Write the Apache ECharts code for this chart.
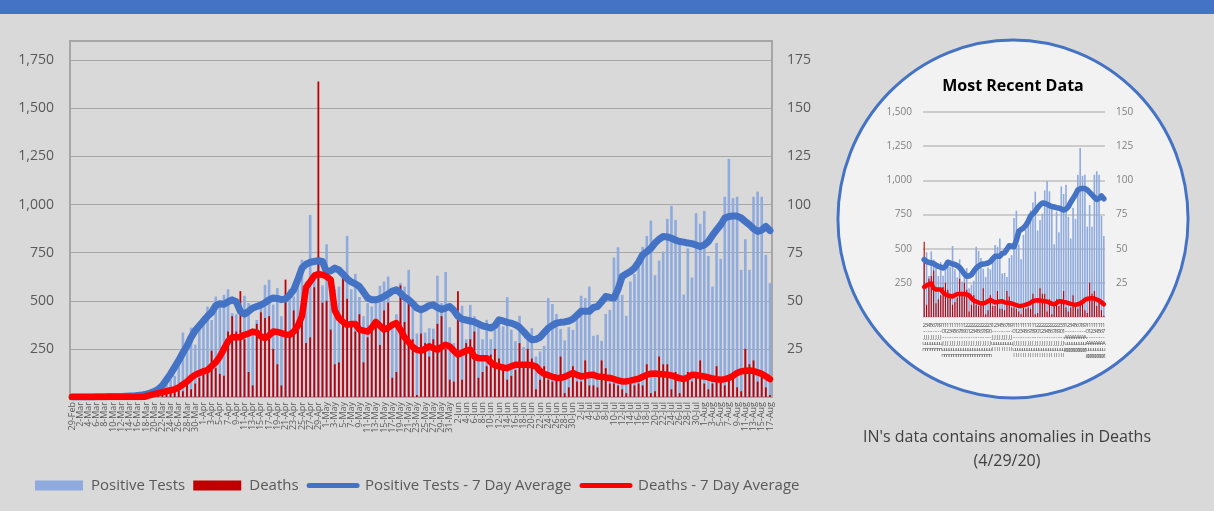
<!DOCTYPE html>
<html>
<head>
<meta charset="utf-8">
<title>IN Positive Tests and Deaths</title>
<script src="https://cdn.jsdelivr.net/npm/echarts/dist/echarts.min.js"></script>
<style>
  html, body { margin: 0; padding: 0; background: #d9d9d9; }
  #chart { width: 1214px; height: 511px; }
</style>
</head>
<body>
<div id="chart"></div>
<script>
// one category per day, 29-Feb .. 17-Aug
const dates = [
  "29-Feb",
  "1-Mar","2-Mar","3-Mar","4-Mar","5-Mar","6-Mar","7-Mar","8-Mar","9-Mar","10-Mar","11-Mar","12-Mar","13-Mar","14-Mar","15-Mar","16-Mar",
  "17-Mar","18-Mar","19-Mar","20-Mar","21-Mar","22-Mar","23-Mar","24-Mar","25-Mar","26-Mar","27-Mar","28-Mar","29-Mar","30-Mar","31-Mar",
  "1-Apr","2-Apr","3-Apr","4-Apr","5-Apr","6-Apr","7-Apr","8-Apr","9-Apr","10-Apr","11-Apr","12-Apr","13-Apr","14-Apr","15-Apr",
  "16-Apr","17-Apr","18-Apr","19-Apr","20-Apr","21-Apr","22-Apr","23-Apr","24-Apr","25-Apr","26-Apr","27-Apr","28-Apr","29-Apr","30-Apr",
  "1-May","2-May","3-May","4-May","5-May","6-May","7-May","8-May","9-May","10-May","11-May","12-May","13-May","14-May","15-May","16-May",
  "17-May","18-May","19-May","20-May","21-May","22-May","23-May","24-May","25-May","26-May","27-May","28-May","29-May","30-May","31-May",
  "1-Jun","2-Jun","3-Jun","4-Jun","5-Jun","6-Jun","7-Jun","8-Jun","9-Jun","10-Jun","11-Jun","12-Jun","13-Jun","14-Jun","15-Jun",
  "16-Jun","17-Jun","18-Jun","19-Jun","20-Jun","21-Jun","22-Jun","23-Jun","24-Jun","25-Jun","26-Jun","27-Jun","28-Jun","29-Jun","30-Jun",
  "1-Jul","2-Jul","3-Jul","4-Jul","5-Jul","6-Jul","7-Jul","8-Jul","9-Jul","10-Jul","11-Jul","12-Jul","13-Jul","14-Jul","15-Jul","16-Jul",
  "17-Jul","18-Jul","19-Jul","20-Jul","21-Jul","22-Jul","23-Jul","24-Jul","25-Jul","26-Jul","27-Jul","28-Jul","29-Jul","30-Jul","31-Jul",
  "1-Aug","2-Aug","3-Aug","4-Aug","5-Aug","6-Aug","7-Aug","8-Aug","9-Aug","10-Aug","11-Aug","12-Aug","13-Aug","14-Aug","15-Aug","16-Aug","17-Aug"
];

const positiveTests = [
  0,0,0,0,0,0,1,0,1,3,2,4,3,5,8,5,
  10,9,15,20,27,32,60,100,90,110,
  190,335,250,360,272,380,
  420,470,400,522,480,531,560,436,430,350,
  526,488,330,400,470,583,609,480,566,420,
  530,560,522,640,713,600,946,650,730,580,
  794,600,560,574,650,837,560,640,520,420,
  488,470,520,578,600,626,380,430,592,574,
  661,470,330,460,
  335,358,355,630,488,650,362,280,440,474,
  300,479,420,367,300,401,301,350,380,367,
  519,350,290,422,260,300,358,211,237,266,
  514,483,432,353,294,363,349,410,526,514,574,318,
  323,292,432,453,725,778,531,422,600,640,
  700,780,837,917,633,709,756,926,993,920,
  820,533,772,621,955,900,967,733,574,800,
  718,1041,1237,1033,1041,661,820,661,1041,1067,1041,739,592
];

const deaths = [
  0,0,0,0,0,0,0,0,0,0,0,0,0,0,0,0,
  1,0,1,0,2,1,2,2,3,5,
  4,3,7,4,7,10,15,13,24,15,
  12,11,34,42,34,55,30,13,6,38,
  44,41,42,25,17,6,61,32,45,37,
  45,28,31,57,164,49,50,35,17,18,
  62,51,38,34,43,18,31,38,40,27,
  45,49,10,13,58,39,49,30,1,33,
  28,21,30,38,42,25,9,8,55,9,
  28,30,34,10,13,16,22,25,20,14,
  9,11,14,28,16,25,20,4,9,16,
  9,8,9,21,2,5,16,8,8,19,6,6,
  5,19,15,7,7,6,4,2,7,6,
  7,6,17,2,3,21,17,17,4,13,
  2,10,13,8,13,19,7,4,7,16,
  8,6,9,13,5,3,25,17,19,8,13,5,1
];

const positiveAvg = [
  0,0,0,0,0,0,1,1,1,2,2,3,3,4,5,
  5,8,10,14,20,28,40,60,90,120,
  155,190,230,265,310,345,370,395,420,440,
  475,485,482,495,505,495,
  445,430,445,462,470,478,490,505,514,512,
  506,510,530,557,610,670,690,700,704,708,
  704,650,655,670,660,638,615,598,588,574,
  545,514,505,505,512,522,535,550,557,540,
  518,505,485,
  462,453,462,475,479,465,455,462,470,450,
  420,405,400,395,390,380,370,365,358,370,
  401,395,388,384,375,362,340,315,298,300,
  310,335,358,372,384,388,390,395,405,425,
  445,445,445,465,
  470,495,522,518,514,560,626,640,652,670,
  700,739,755,773,800,820,834,832,825,815,
  808,805,800,797,790,782,790,808,840,868,
  895,930,938,941,940,930,912,895,875,860,868,886,865
];

const deathsAvg = [
  0,0,0,0,0,0,0,0,0,0,0,0,0,0,0,0,0,0,
  0.3,1,1.5,2,2.5,3,3.5,4,5,6.5,
  8,10,11.5,12.5,13.3,14,16,18,21,25,
  29,31,31,31,32.3,33,34,33.5,31.5,30.6,
  32,34,33.8,33.2,32.5,32.3,34,37,42,57,
  60,63,64,63.5,62.6,61,45,41,39,37.5,
  38,38,35,34.5,34,36,39,37,35,36,
  37.5,38.4,35,31,28.5,26,
  24.5,24,25,26.3,25.5,24.6,26,27.2,26.3,24,
  22,23,24,24.6,21,20.2,20.2,20.2,18,16.5,
  15.9,15.3,15,16,16.8,16.8,16.8,16.8,16.5,15.9,
  13.5,12,11.3,10.5,10,9.9,10.5,11.5,12.5,11.5,
  10.7,11,11.4,11.6,
  10.7,10.5,10.2,9.9,9.3,8.7,8.1,8.1,8.5,9,
  9.5,10.5,11.5,12.1,12.2,12,11.8,11.6,11.2,10.5,
  9.8,9.3,10.2,11.6,11.4,11,10.7,10.2,9.6,9.2,
  9,9.3,9.9,11,12.5,13.3,13.6,13.8,13.5,12.8,12,10.8,9.3
];

// "Most Recent Data" inset shows 3-Jun onwards
const insetStart = 94;

const FONT = '"Open Sans", "Noto Sans", sans-serif';
const LABEL_COLOR = '#595959';
const GRID_COLOR = '#a6a6a6';

function thousands(v) {
  return String(v).replace(/\B(?=(\d{3})+(?!\d))/g, ',');
}

// value axis helper: hides the 0 label and anything above the last real tick
function valueAxis(grid, pos, max, step, lastTick, opts) {
  return {
    type: 'value',
    gridIndex: grid,
    position: pos,
    min: 0,
    max: max,
    interval: step,
    axisLine: { show: false },
    axisTick: { show: false },
    splitLine: { show: opts.split, lineStyle: { color: opts.splitColor, width: opts.splitWidth } },
    axisLabel: {
      fontFamily: FONT,
      fontSize: opts.fontSize,
      color: opts.color,
      margin: opts.margin,
      showMaxLabel: max === lastTick,
      formatter: v => (v > 0 && v <= lastTick) ? thousands(v) : ''
    }
  };
}

// legend entries for the lines: plain thick line, no symbol
function lineLegend(name) {
  return { name: name, itemStyle: { opacity: 0 }, lineStyle: { width: 5, cap: 'round' } };
}

const chart = echarts.init(document.getElementById('chart'));

chart.setOption({
  animation: false,
  backgroundColor: '#d9d9d9',
  textStyle: { fontFamily: FONT },
  grid: [
    { left: 70, right: 442, top: 41, bottom: 114, show: true, borderColor: GRID_COLOR, borderWidth: 2, outerBoundsMode: 'none' },
    { left: 923, right: 109, top: 112, bottom: 194, outerBoundsMode: 'none' }
  ],
  legend: {
    left: 30,
    top: 473,
    itemWidth: 48,
    itemHeight: 10,
    itemGap: 8,
    textStyle: { fontFamily: FONT, fontSize: 15, color: LABEL_COLOR, padding: [0, 0, 0, 3] },
    data: [
      { name: 'Positive Tests', icon: 'rect' },
      { name: 'Deaths', icon: 'rect' },
      lineLegend('Positive Tests - 7 Day Average'),
      lineLegend('Deaths - 7 Day Average')
    ]
  },
  xAxis: [
    {
      type: 'category',
      gridIndex: 0,
      data: dates,
      axisTick: { show: false },
      axisLine: { lineStyle: { color: GRID_COLOR, width: 2 } },
      // every label is laid out (interval 0) and every other one is blanked,
      // so the first and last dates are not dropped
      axisLabel: {
        interval: 0, rotate: 90, fontFamily: FONT, fontSize: 9, color: LABEL_COLOR, margin: 5,
        hideOverlap: false,
        formatter: (v, i) => (i % 2 === 0 ? v : '')
      }
    },
    // second category axis so the death bars sit on top of the test bars
    { type: 'category', gridIndex: 0, data: dates, show: false },
    {
      type: 'category',
      gridIndex: 1,
      data: dates.slice(insetStart),
      axisTick: { show: false },
      axisLine: { lineStyle: { color: '#d9d9d9', width: 1 } },
      axisLabel: {
        interval: 0, fontFamily: FONT, fontSize: 6, lineHeight: 6, color: LABEL_COLOR, margin: 5,
        hideOverlap: false,
        formatter: v => v.split('').join('\n')
      }
    },
    { type: 'category', gridIndex: 1, data: dates.slice(insetStart), show: false }
  ],
  yAxis: [
    valueAxis(0, 'left', 1850, 250, 1750, { split: true, splitColor: GRID_COLOR, splitWidth: 1, fontSize: 14, color: LABEL_COLOR, margin: 16 }),
    valueAxis(0, 'right', 185, 25, 175, { split: false, fontSize: 14, color: LABEL_COLOR, margin: 15 }),
    valueAxis(1, 'left', 1500, 250, 1500, { split: true, splitColor: '#bfbfbf', splitWidth: 1.5, fontSize: 10, color: '#7f7f7f', margin: 11 }),
    valueAxis(1, 'right', 150, 25, 150, { split: false, fontSize: 10, color: '#7f7f7f', margin: 11 })
  ],
  series: [
    {
      name: 'Positive Tests', type: 'bar', xAxisIndex: 0, yAxisIndex: 0,
      data: positiveTests, barWidth: 2.6, itemStyle: { color: '#8faadc' }
    },
    {
      name: 'Deaths', type: 'bar', xAxisIndex: 1, yAxisIndex: 1,
      data: deaths, barWidth: 1.8, itemStyle: { color: '#c00000' }
    },
    {
      name: 'Positive Tests - 7 Day Average', type: 'line', xAxisIndex: 0, yAxisIndex: 0, z: 3,
      data: positiveAvg, symbol: 'none', color: '#4472c4',
      lineStyle: { width: 7, color: '#4472c4', join: 'round', cap: 'round' }
    },
    {
      name: 'Deaths - 7 Day Average', type: 'line', xAxisIndex: 0, yAxisIndex: 1, z: 3,
      data: deathsAvg, symbol: 'none', color: '#ff0000',
      lineStyle: { width: 6.5, color: '#ff0000', join: 'round', cap: 'round' }
    },
    // inset
    {
      name: 'Positive Tests', type: 'bar', xAxisIndex: 2, yAxisIndex: 2,
      data: positiveTests.slice(insetStart), barWidth: 1.6, itemStyle: { color: '#8faadc' }
    },
    {
      name: 'Deaths', type: 'bar', xAxisIndex: 3, yAxisIndex: 3,
      data: deaths.slice(insetStart), barWidth: 1.1, itemStyle: { color: '#c00000' }
    },
    {
      name: 'Positive Tests - 7 Day Average', type: 'line', xAxisIndex: 2, yAxisIndex: 2, z: 3,
      data: positiveAvg.slice(insetStart), symbol: 'none', color: '#4472c4',
      lineStyle: { width: 5.5, color: '#4472c4', join: 'round', cap: 'round' }
    },
    {
      name: 'Deaths - 7 Day Average', type: 'line', xAxisIndex: 2, yAxisIndex: 3, z: 3,
      data: deathsAvg.slice(insetStart), symbol: 'none', color: '#ff0000',
      lineStyle: { width: 4.5, color: '#ff0000', join: 'round', cap: 'round' }
    }
  ],
  graphic: [
    { type: 'rect', shape: { x: 0, y: 0, width: 1214, height: 14 }, style: { fill: '#4472c4' } },
    {
      type: 'circle', z: -1,
      shape: { cx: 1013, cy: 219, r: 179 },
      scaleX: 0.978, originX: 1013, originY: 219,
      style: { fill: '#f2f2f2', stroke: '#4472c4', lineWidth: 3 }
    },
    {
      type: 'text', x: 1013, y: 86,
      style: { text: 'Most Recent Data', fontFamily: FONT, fontSize: 16, fontWeight: 'bold', fill: '#000', align: 'center', verticalAlign: 'middle' }
    },
    {
      type: 'text', x: 1007, y: 437,
      style: { text: "IN's data contains anomalies in Deaths", fontFamily: FONT, fontSize: 16, fill: '#404040', align: 'center', verticalAlign: 'middle' }
    },
    {
      type: 'text', x: 1007, y: 461,
      style: { text: '(4/29/20)', fontFamily: FONT, fontSize: 16, fill: '#404040', align: 'center', verticalAlign: 'middle' }
    }
  ]
});
</script>
</body>
</html>
